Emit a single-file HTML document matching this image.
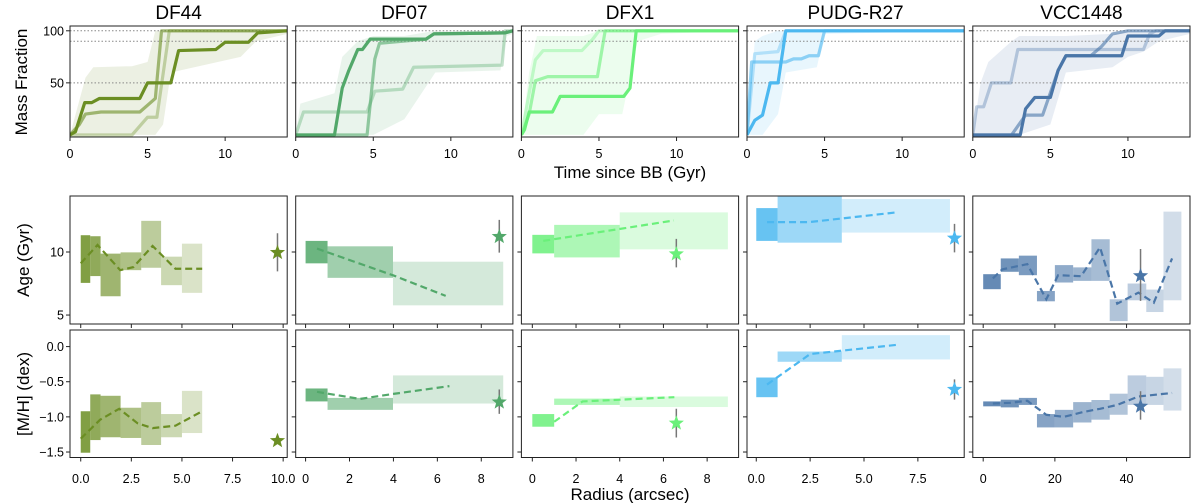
<!DOCTYPE html>
<html><head><meta charset="utf-8"><style>
html,body{margin:0;padding:0;background:#fff;}
svg{display:block;font-family:"Liberation Sans","DejaVu Sans",sans-serif;}
</style></head><body>
<svg id="chart" width="1200" height="503" viewBox="0 0 1200 503" xmlns="http://www.w3.org/2000/svg"></svg>
<script>
// ---------- DATA ----------
const galaxies = ["DF44","DF07","DFX1","PUDG-R27","VCC1448"];
const colors = ["#6b8e23","#52a86a","#6af07a","#4cb8f0","#4a76a8"];

// Mass fraction lines: [dark, mid, light] per galaxy: time arrays and fraction arrays
const sfhT = [
 [[0,0.35,0.95,1.4,1.9,4.5,5,6.5,7,9.4,10,11.5,12.1,14],[0,0.6,1,2,4.5,5.5,5.9,14],[0,4,5,5.6,6.4,14]],
 [[0,2.5,3,3.4,4,4.3,4.8,8.4,8.9,13.5,14],[0,4.6,5.1,5.4,8.4,8.9,13.5,14],[0,0.5,4.6,5.1,6.9,7.6,13.3,13.5,14]],
 [[0,0.2,0.5,2,2.5,6.6,7.0,7.4,14],[0,0.5,0.9,1.7,4.9,5.4,14],[0,0.5,0.9,1.4,3.9,4.6,5.0,14]],
 [[0,0.5,1,1.5,2,2.5,14],[0,0.3,2.5,3,3.5,4,4.6,5,14],[0,0.5,2,2.5,14]],
 [[0,3.06,3.4,4,5,5.5,6,9.6,10,12,12.4,14],[0,2.5,3.4,4.5,5.5,6,7.6,8.3,9,10,14],[0,0.25,0.7,1.2,2.45,2.9,11,11.4,11.8,14]]
];
const sfhF = [
 [[0,3,31,31,35,35,50,50,81,82,89,89,98,100],[0,10,20,22,22,35,100,100],[0,0,17,17,100,100]],
 [[0,0,45,61,82,82,92,92,97,98,100],[0,0,73,88,92,97,98,100],[0,22,22,42,44,65,67,100,100]],
 [[0,5,22,22,37,37,45,100,100],[0,20,52,56,56,100,100],[0,40,72,81,81,92,100,100]],
 [[0,14,19,50,50,100,100],[0,70,70,73,73,76,76,100,100],[0,78,80,100,100]],
 [[0,0,25,36,36,62,76,76,95,95,100,100],[0,0,19,19,62,76,76,85,97,100,100],[0,27,27,50,50,82,82,97,100,100]]
];
// Envelope bands
const bandT = [
 [0,1,1.5,4,5,5.5,6,6.5,11,12,14],
 [0,0.3,2.5,3,4,5,7,9,13.2,13.6,14],
 [0,0.5,1,2,4,5,6.5,7.5,9,14],
 [0,0.5,1,2,2.5,4.5,5,14],
 [0,0.5,1,2.5,3,5,5.5,6,9,10,11,12,14]
];
const bandLo = [
 [0,0,0,0,0,0,10,60,75,90,97],
 [0,0,0,0,0,0,15,60,62,95,97],
 [0,0,0,0,0,20,20,90,97,100],
 [0,0,0,20,60,65,97,100],
 [0,0,0,0,0,10,35,60,65,75,80,90,97]
];
const bandHi = [
 [0,55,65,66,70,100,100,100,100,100,100],
 [0,30,40,75,90,95,95,100,100,100,100],
 [0,60,95,95,95,100,100,100,100,100],
 [0,90,95,100,100,100,100,100],
 [0,50,70,90,95,95,95,95,97,100,100,100,100]
];

// Radial bins (inner, outer radius)
const binR0 = [
 [0,0.47,0.98,1.97,2.99,3.97,5.0],
 [0,1,3.98],
 [0,1,4],
 [0,0.99,3.97],
 [0,4.9,9.95,15,20,25.1,30.2,35.3,40.3,45.5,50.3]
];
const binR1 = [
 [0.47,0.98,1.97,2.99,3.97,5.0,6.0],
 [1,3.98,9.0],
 [1,4,8.95],
 [0.99,3.97,8.99],
 [4.9,9.95,15,20,25.1,30.2,35.3,40.3,45.5,50.3,55.3]
];
const ageLo = [
 [7.55,8.09,6.49,8.56,8.75,7.37,6.76],
 [9.10,7.95,5.77],
 [9.89,9.57,10.21],
 [10.88,10.74,11.54],
 [7.05,8.43,8.16,6.09,7.58,7.71,7.71,4.52,6.17,5.24,6.17]
];
const ageHi = [
 [11.33,11.25,9.87,9.97,12.47,9.63,10.66],
 [10.88,10.45,9.23],
 [11.36,12.15,13.14],
 [13.48,14.6,14.2],
 [8.24,9.49,9.71,6.91,8.96,8.78,11.01,6.25,7.5,7.02,13.2]
];
const mhLo = [
 [-1.51,-1.33,-1.29,-1.30,-1.40,-1.29,-1.23],
 [-0.78,-0.90,-0.81],
 [-1.14,-0.83,-0.86],
 [-0.72,-0.216,-0.183],
 [-0.85,-0.865,-0.83,-1.15,-1.15,-1.08,-1.04,-0.97,-0.83,-0.83,-0.91]
];
const mhHi = [
 [-0.92,-0.68,-0.70,-0.87,-0.79,-0.96,-0.63],
 [-0.596,-0.73,-0.41],
 [-0.96,-0.74,-0.71],
 [-0.44,-0.07,0.163],
 [-0.78,-0.755,-0.73,-0.96,-0.90,-0.79,-0.76,-0.67,-0.41,-0.43,-0.31]
];
// Dashed trend lines
const ageLineR = [
 [0,0.83,1.95,2.6,3.55,4.68,6.0],
 [0.52,4,6.38],
 [0.5,6.48],
 [0.5,2.46,6.5],
 [2.7,5.3,12.3,17.6,20.9,27.3,32.6,37.4,43.3,47.6,52.7]
];
const ageLineV = [
 [9.1,10.56,8.56,8.8,10.48,8.67,8.67],
 [10.27,8.14,6.52],
 [10.88,12.5],
 [12.37,12.37,13.14],
 [7.9,8.62,9.04,6.25,8.16,8.08,10.37,5.9,6.78,5.98,9.49]
];
const mhLineR = [
 [0,0.96,1.9,2.8,3.55,4.68,6.0],
 [0.52,2.47,4,6.55],
 [1.0,2.3,6.5],
 [0.5,2.5,6.5],
 [2.7,7.5,12.3,17.6,22.5,28,32.6,37.4,43.3,52.7]
];
const mhLineV = [
 [-1.31,-1.04,-0.885,-1.09,-1.16,-1.125,-0.92],
 [-0.644,-0.745,-0.673,-0.5625],
 [-1.07,-0.78,-0.72],
 [-0.54,-0.106,0.024],
 [-0.81,-0.80,-0.77,-0.97,-1.0,-0.93,-0.885,-0.83,-0.71,-0.66]
];
// Integrated (star) values with error bars
const starR = [9.72,8.82,6.59,9.2,43.9];
const starAge = [9.95,11.22,9.84,11.09,8.11];
const starAgeLo = [8.46,9.95,8.78,9.97,6.12];
const starAgeHi = [11.49,12.55,11.04,12.23,10.24];
const starMH = [-1.34,-0.79,-1.09,-0.61,-0.85];
const starMHLo = [-1.38,-0.957,-1.293,-0.755,-1.04];
const starMHHi = [-1.30,-0.61,-0.885,-0.466,-0.635];

// Axis ticks
const sfhTicks = [0,5,10];
const fracTicks = [50,100];
const fracTickLabels = ["50","100"];
const refLines = [50,90,100];
const ageTicks = [5,10];
const mhTicks = [0,-0.5,-1.0,-1.5];
const mhTickLabels = ["0.0","\u22120.5","\u22121.0","\u22121.5"];
const rTicks = [[0,2.5,5,7.5,10],[0,2,4,6,8],[0,2,4,6,8],[0,2.5,5,7.5],[0,20,40]];
const rTickLabels = [["0.0","2.5","5.0","7.5","10.0"],["0","2","4","6","8"],["0","2","4","6","8"],["0.0","2.5","5.0","7.5"],["0","20","40"]];

// ---------- LAYOUT ----------
const NS="http://www.w3.org/2000/svg";
const svg=document.getElementById('chart');
const lefts=[70,295.7,521.4,747,972.8], PW=217.2;
const rowTop={sfh:26,age:196,mh:330}, rowBot={sfh:137,age:324,mh:457.5};
const tRange=[0,14], fRange=[-2,104.6], ageRange=[4.29,14.44], mhRange=[-1.578,0.236];
const rRanges=[[-0.53,10.2],[-0.45,9.44],[-0.5,9.44],[-0.43,9.65],[-2.9,57.7]];

function mk(tag,attrs,parent){const e=document.createElementNS(NS,tag);for(const k in attrs)e.setAttribute(k,attrs[k]);(parent||svg).appendChild(e);return e;}
function sx(i,v,rng){return lefts[i]+(v-rng[0])/(rng[1]-rng[0])*PW;}
function syf(row,v,rng){return rowBot[row]-(v-rng[0])/(rng[1]-rng[0])*(rowBot[row]-rowTop[row]);}
function txt(s,x,y,size,anchor,parent){const t=mk('text',{x:x,y:y,'font-size':size,'text-anchor':anchor||'middle',fill:'#000'},parent);t.textContent=s;return t;}

const defs=mk('defs',{});
function starPath(cx,cy,R){const r=R*0.42;let d='';for(let k=0;k<10;k++){const a=-Math.PI/2+k*Math.PI/5;const rr=k%2?r:R;d+=(k?'L':'M')+(cx+rr*Math.cos(a)).toFixed(2)+','+(cy+rr*Math.sin(a)).toFixed(2);}return d+'Z';}

function frame(i,row,name){
  const x=lefts[i],y=rowTop[row],h=rowBot[row]-rowTop[row];
  const cp=mk('clipPath',{id:'c'+row+i},defs);
  mk('rect',{x:x,y:y,width:PW,height:h},cp);
  const g=mk('g',{'clip-path':'url(#c'+row+i+')'});
  
  
  return g;
}
function border(i,row,name){
  const r=mk('rect',{x:lefts[i],y:rowTop[row],width:PW,height:rowBot[row]-rowTop[row],fill:'none',stroke:'#222','stroke-width':1});
  
  
}

for(let i=0;i<5;i++){
  const gname=galaxies[i].toLowerCase();
  const col=colors[i];
  // title
  const tt=txt(galaxies[i],lefts[i]+PW/2,19,19);
  
  

  // ---- SFH panel ----
  const g=frame(i,'sfh',gname+'-mass-fraction');
  const X=v=>sx(i,v,tRange), Y=v=>syf('sfh',v,fRange);
  let up='',dn='';
  for(let k=0;k<bandT[i].length;k++){up+=(k?'L':'M')+X(bandT[i][k])+','+Y(bandHi[i][k]);}
  for(let k=bandT[i].length-1;k>=0;k--){dn+='L'+X(bandT[i][k])+','+Y(bandLo[i][k]);}
  const band=mk('path',{d:up+dn+'Z',fill:col,'fill-opacity':0.13},g);
  
  
  for(const rl of refLines){
    const l=mk('line',{x1:lefts[i],x2:lefts[i]+PW,y1:Y(rl),y2:Y(rl),stroke:'#888','stroke-width':1,'stroke-dasharray':'1.5,2'},g);
    
    
  }
  const alphas=[1,0.6,0.35];
  for(let L=2;L>=0;L--){
    let d='';
    for(let k=0;k<sfhT[i][L].length;k++)d+=(k?'L':'M')+X(sfhT[i][L][k]).toFixed(2)+','+Y(sfhF[i][L][k]).toFixed(2);
    const p=mk('path',{d:d,fill:'none',stroke:col,'stroke-opacity':alphas[L],'stroke-width':3.2,'stroke-linejoin':'round'},g);
    
    
  }
  border(i,'sfh',gname+'-mass-fraction');
  for(let k=0;k<sfhTicks.length;k++){
    const xx=X(sfhTicks[k]);
    mk('line',{x1:xx,x2:xx,y1:rowBot.sfh,y2:rowBot.sfh+4,stroke:'#222'});
    const t=txt(String(sfhTicks[k]),xx,158,12.5);
    
    
  }
  for(let k=0;k<fracTicks.length;k++){
    const yy=Y(fracTicks[k]);
    mk('line',{x1:lefts[i]-4,x2:lefts[i],y1:yy,y2:yy,stroke:'#222'});
    if(i===0){const t=txt(fracTickLabels[k],lefts[0]-6,yy+4.5,12.5,'end');
      
      }
  }

  // ---- Age & MH panels ----
  const rows=[['age',ageRange,ageLo,ageHi,ageLineR,ageLineV,starAge,starAgeLo,starAgeHi],
              ['mh',mhRange,mhLo,mhHi,mhLineR,mhLineV,starMH,starMHLo,starMHHi]];
  for(const R of rows){
    const row=R[0],rng=R[1];
    const pname=gname+(row==='age'?'-age':'-metallicity');
    const gg=frame(i,row,pname);
    const RX=v=>sx(i,v,rRanges[i]), RY=v=>syf(row,v,rng);
    const nb=binR0[i].length;
    for(let b=0;b<nb;b++){
      const a=nb>1?0.85-0.6*b/(nb-1):0.85;
      const x0=RX(binR0[i][b]),x1=RX(binR1[i][b]),y0=RY(R[3][i][b]),y1=RY(R[2][i][b]);
      const rc=mk('rect',{x:x0,y:y0,width:x1-x0,height:y1-y0,fill:col,'fill-opacity':a},gg);
      
      
    }
    let d='';
    for(let k=0;k<R[4][i].length;k++)d+=(k?'L':'M')+RX(R[4][i][k]).toFixed(2)+','+RY(R[5][i][k]).toFixed(2);
    const dl=mk('path',{d:d,fill:'none',stroke:col,'stroke-width':2.2,'stroke-dasharray':'7,4'},gg);
    
    
    const sxv=RX(starR[i]);
    const eb=mk('line',{x1:sxv,x2:sxv,y1:RY(R[7][i]),y2:RY(R[8][i]),stroke:'#777','stroke-width':1.5},gg);
    
    
    const st=mk('path',{d:starPath(sxv,RY(R[6][i]),8),fill:col},gg);
    
    
    border(i,row,pname);
    for(let k=0;k<rTicks[i].length;k++){
      const xx=RX(rTicks[i][k]);
      mk('line',{x1:xx,x2:xx,y1:rowBot[row],y2:rowBot[row]+4,stroke:'#222'});
      if(row==='mh'){const t=txt(rTickLabels[i][k],xx,483,12.5);
        
        }
    }
    const yt=row==='age'?ageTicks:mhTicks;
    for(let k=0;k<yt.length;k++){
      const yy=RY(yt[k]);
      mk('line',{x1:lefts[i]-4,x2:lefts[i],y1:yy,y2:yy,stroke:'#222'});
      if(i===0){const t=txt(row==='age'?String(ageTicks[k]):mhTickLabels[k],lefts[0]-6,yy+4.5,12.5,'end');
        
        }
    }
  }
}
// axis titles
let a;
a=txt('Mass Fraction',0,0,17);a.setAttribute('transform','translate(27,82) rotate(-90)');


a=txt('Age (Gyr)',0,0,17);a.setAttribute('transform','translate(29,260) rotate(-90)');


a=txt('[M/H] (dex)',0,0,17);a.setAttribute('transform','translate(29,394) rotate(-90)');


a=txt('Time since BB (Gyr)',630,178,17);


a=txt('Radius (arcsec)',630,500,17);


</script>
</body></html>
